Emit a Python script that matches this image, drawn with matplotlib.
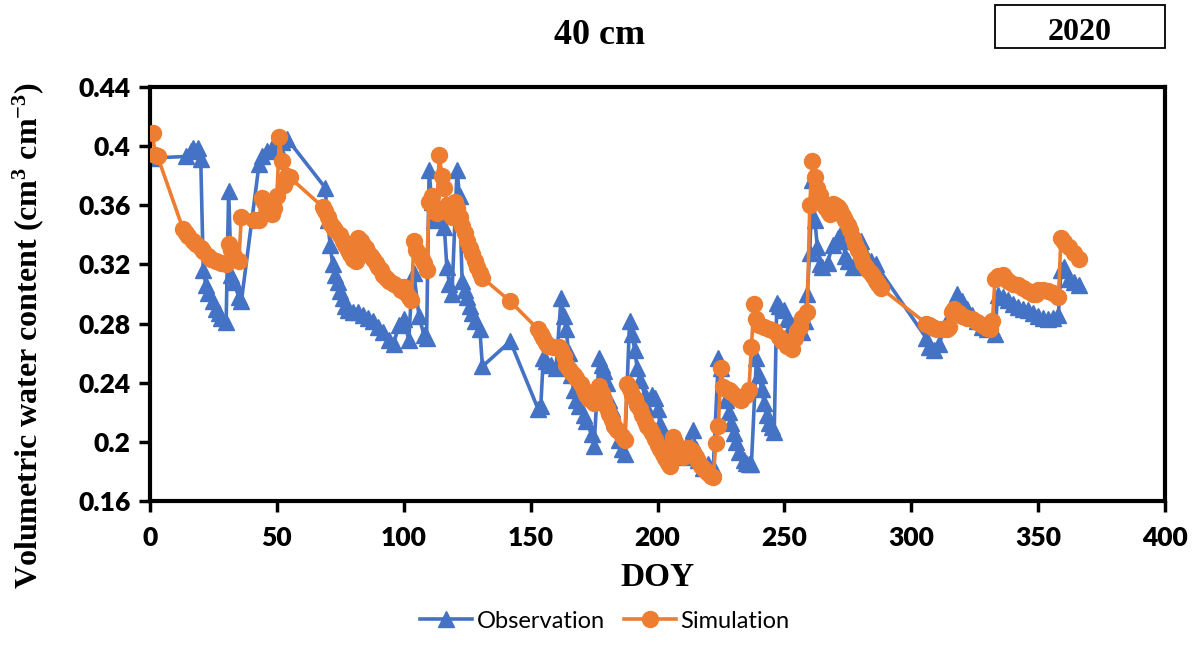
import matplotlib
matplotlib.use("Agg")
import matplotlib.pyplot as plt
from matplotlib.patches import Rectangle
from matplotlib.ticker import FuncFormatter

obs_doy = [1, 14, 16, 17, 19, 20, 21, 22, 23, 25, 26, 27, 28, 30, 31, 32, 33, 35, 36,
           43, 44, 46, 48, 50, 52, 54, 69, 70, 71, 72, 73, 74, 75, 76, 77, 78, 80, 82,
           84, 86, 88, 90, 92, 94, 96, 98, 100, 102, 103, 104, 106, 108, 109, 110, 111,
           112, 114, 116, 117, 118, 119, 121, 122, 123, 124, 125, 126, 127, 128, 130,
           131, 142, 153, 154, 155, 156, 158, 160, 162, 163, 164, 165, 166, 167, 168,
           169, 171, 172, 174, 175, 177, 178, 179, 180, 181, 182, 183, 185, 186, 187,
           189, 190, 191, 192, 193, 195, 196, 198, 199, 200, 201, 202, 204, 206, 208,
           210, 212, 214, 215, 216, 218, 220, 222, 224, 225, 226, 227, 228, 229, 230,
           231, 232, 234, 235, 236, 237, 239, 240, 241, 242, 243, 244, 245, 246, 247,
           248, 250, 251, 253, 255, 257, 258, 259, 260, 261, 262, 263, 264, 265, 267,
           269, 271, 272, 273, 274, 275, 277, 279, 280, 282, 284, 286, 306, 307, 309,
           311, 314, 316, 318, 320, 322, 324, 326, 328, 330, 333, 334, 336, 338, 340,
           342, 344, 346, 348, 350, 352, 354, 356, 358, 359, 360, 362, 364, 366]
obs_vwc = [0.392, 0.393, 0.397, 0.399, 0.399, 0.391, 0.316, 0.306, 0.301, 0.295, 0.290,
           0.287, 0.284, 0.281, 0.370, 0.313, 0.308, 0.298, 0.295,
           0.388, 0.393, 0.397, 0.399, 0.400, 0.403, 0.405, 0.372, 0.350, 0.333, 0.320,
           0.313, 0.308, 0.302, 0.297, 0.292, 0.289, 0.288, 0.288,
           0.286, 0.284, 0.282, 0.278, 0.274, 0.269, 0.266, 0.279, 0.283, 0.269, 0.300,
           0.314, 0.285, 0.272, 0.270, 0.384, 0.362,
           0.350, 0.352, 0.345, 0.318, 0.307, 0.300, 0.384, 0.366, 0.309, 0.303, 0.298,
           0.292, 0.287, 0.282, 0.276,
           0.251, 0.268, 0.222, 0.224, 0.257, 0.255, 0.252, 0.250, 0.297, 0.285, 0.276,
           0.260, 0.245, 0.235, 0.228,
           0.224, 0.218, 0.214, 0.205, 0.197, 0.257, 0.252, 0.248, 0.240, 0.228, 0.222,
           0.215, 0.201, 0.195, 0.192,
           0.282, 0.273, 0.262, 0.250, 0.242, 0.232, 0.222, 0.232, 0.230, 0.222, 0.212,
           0.205, 0.198, 0.195, 0.192,
           0.190, 0.200, 0.208, 0.195, 0.188, 0.182, 0.185, 0.183, 0.257, 0.250, 0.237,
           0.228, 0.220, 0.213, 0.206,
           0.200, 0.193, 0.188, 0.186, 0.185, 0.185, 0.257, 0.245, 0.236, 0.226, 0.218,
           0.213, 0.210, 0.207, 0.294,
           0.292, 0.289, 0.283, 0.279, 0.276, 0.274, 0.282, 0.300, 0.328, 0.377, 0.350,
           0.332, 0.320, 0.318, 0.321,
           0.333, 0.338, 0.340, 0.336, 0.326, 0.322, 0.318, 0.334, 0.336, 0.326, 0.322,
           0.320, 0.270, 0.264, 0.262,
           0.266, 0.282, 0.292, 0.300, 0.295, 0.290, 0.286, 0.282, 0.278, 0.276, 0.273,
           0.299, 0.298, 0.296, 0.293,
           0.291, 0.290, 0.289, 0.287, 0.285, 0.284, 0.283, 0.284, 0.286, 0.316, 0.318,
           0.310, 0.308, 0.306]

# Simulated soil water content at 40 cm
sim_doy = [1, 2, 3, 13, 14, 15, 17, 18, 20, 21, 23, 24, 26, 28, 30, 31, 32, 33, 35, 36,
           41, 43, 44, 45, 46, 48, 49, 50, 51, 52, 53, 54, 55, 68, 69, 70, 71, 72, 73,
           75, 76, 77, 78, 79, 80, 81, 82, 83, 84, 85, 86, 87, 88, 89, 90, 91, 92, 93,
           94, 96, 98, 99, 100, 101, 102, 103, 104, 105, 106, 107, 108, 109, 110, 111,
           112, 113, 114, 115, 116, 117, 118, 119, 120, 121, 122, 123, 124, 125, 126,
           127, 128, 129, 130, 131, 142, 153, 154, 155, 156, 157, 159, 161, 162, 163,
           164, 165, 166, 167, 168, 170, 171, 172, 173, 175, 177, 178, 179, 180, 181,
           182, 183, 184, 186, 187, 188, 189, 190, 191, 192, 193, 194, 195, 196, 197,
           198, 199, 200, 201, 202, 203, 204, 205, 206, 207, 208, 209, 210, 212, 213,
           214, 215, 216, 217, 218, 219, 220, 221, 222, 223, 224, 225, 226, 227, 228,
           229, 231, 232, 233, 235, 236, 237, 238, 239, 240, 242, 244, 246, 248, 249,
           251, 253, 254, 255, 256, 257, 259, 260, 261, 262, 263, 264, 265, 266, 267,
           268, 269, 270, 271, 272, 273, 274, 275, 276, 277, 278, 279, 280, 281, 282,
           283, 284, 285, 286, 287, 288, 306, 307, 308, 309, 310, 312, 314, 315, 316,
           317, 318, 319, 320, 322, 324, 326, 328, 330, 331, 332, 333, 334, 336, 337,
           338, 340, 342, 344, 346, 348, 349, 350, 352, 354, 356, 358, 359, 360, 362,
           364, 366]
sim_vwc = [0.409, 0.394, 0.393, 0.344, 0.341, 0.339, 0.336, 0.334, 0.331, 0.329, 0.326,
           0.324, 0.322, 0.321, 0.320, 0.334, 0.330, 0.326, 0.322, 0.352,
           0.350, 0.350, 0.365, 0.362, 0.357, 0.354, 0.358, 0.366, 0.406, 0.390, 0.374,
           0.380, 0.379, 0.359, 0.356, 0.352, 0.348, 0.345, 0.343,
           0.340, 0.336, 0.333, 0.330, 0.327, 0.324, 0.322, 0.338, 0.336, 0.333, 0.331,
           0.328, 0.326, 0.324, 0.321, 0.318, 0.316, 0.313, 0.311,
           0.309, 0.307, 0.305, 0.303, 0.305, 0.301, 0.298, 0.296, 0.336, 0.330, 0.327,
           0.324, 0.321, 0.316, 0.362, 0.366,
           0.358, 0.355, 0.394, 0.380, 0.372, 0.360, 0.355, 0.352, 0.362, 0.358, 0.352,
           0.346, 0.341, 0.336, 0.331,
           0.327, 0.322, 0.318, 0.314, 0.311, 0.295, 0.276, 0.273, 0.270, 0.267, 0.265,
           0.264, 0.264, 0.262, 0.258,
           0.252, 0.249, 0.247, 0.245, 0.243, 0.239, 0.235, 0.232, 0.229, 0.226, 0.238,
           0.233, 0.228, 0.223, 0.219,
           0.215, 0.211, 0.208, 0.204, 0.201, 0.239, 0.236, 0.232, 0.229, 0.225, 0.222,
           0.218, 0.214, 0.211, 0.209,
           0.206, 0.202, 0.198, 0.195, 0.192, 0.189, 0.186, 0.184, 0.203, 0.200, 0.196,
           0.193, 0.190, 0.196, 0.195,
           0.193, 0.190, 0.187, 0.184, 0.182, 0.180, 0.179, 0.177, 0.176, 0.199, 0.211,
           0.250, 0.237, 0.236, 0.235,
           0.234, 0.231, 0.229, 0.228, 0.232, 0.235, 0.264, 0.293, 0.283, 0.279, 0.278,
           0.276, 0.275, 0.271, 0.268,
           0.265, 0.263, 0.270, 0.275, 0.278, 0.284, 0.288, 0.360, 0.390, 0.379, 0.372,
           0.367, 0.362, 0.359, 0.356,
           0.354, 0.361, 0.360, 0.359, 0.357, 0.353, 0.350, 0.347, 0.343, 0.338, 0.334,
           0.330, 0.325, 0.321, 0.318,
           0.316, 0.314, 0.312, 0.309, 0.307, 0.304, 0.280, 0.279, 0.278, 0.277, 0.276,
           0.276, 0.276, 0.278, 0.288,
           0.290, 0.288, 0.287, 0.285, 0.284, 0.283, 0.281, 0.279, 0.277, 0.276, 0.282,
           0.310, 0.312, 0.313, 0.311,
           0.309, 0.307, 0.306, 0.304, 0.302, 0.300, 0.300, 0.303, 0.303, 0.302, 0.301,
           0.298, 0.338, 0.335, 0.332,
           0.328, 0.324]

x_ticks = [0, 50, 100, 150, 200, 250, 300, 350, 400]
y_ticks = [0.16, 0.20, 0.24, 0.28, 0.32, 0.36, 0.40, 0.44]

plt.rcParams["mathtext.fontset"] = "custom"
plt.rcParams["mathtext.rm"] = "Liberation Serif:bold"
plt.rcParams["mathtext.it"] = "Liberation Serif:bold"
plt.rcParams["mathtext.bf"] = "Liberation Serif:bold"

fig = plt.figure(figsize=(11.99, 6.46), dpi=100)
ax = fig.add_axes([150 / 1199, 1 - 501 / 646, 1015 / 1199, 414 / 646])

ax.plot(obs_doy, obs_vwc, color="#4472C4", marker="^", markersize=11,
        linewidth=2.6, label="Observation", zorder=2)
ax.plot(sim_doy, sim_vwc, color="#ED7D31", marker="o", markersize=11.5,
        linewidth=2.6, label="Simulation", zorder=3)

ax.set_xlim(0, 400)
ax.set_ylim(0.16, 0.44)
ax.set_xticks(x_ticks)
ax.set_yticks(y_ticks)
ax.yaxis.set_major_formatter(FuncFormatter(lambda v, p: f"{v:g}"))

for s in ax.spines.values():
    s.set_linewidth(3)
ax.tick_params(direction="out", length=8, width=2.5, labelsize=19)
ax.tick_params(axis="x", pad=10)
ax.tick_params(axis="y", pad=6)
for lab in ax.get_xticklabels() + ax.get_yticklabels():
    lab.set_fontfamily("Lato")
    lab.set_fontweight("heavy")

ax.set_xlabel("DOY", fontsize=24, fontweight="bold", family="Liberation Serif")
ax.xaxis.set_label_coords(0.5, -(578 - 501) / 414)
ax.set_ylabel("Volumetric water content (cm$^{3}$ cm$^{-3}$)", fontsize=23,
              fontweight="bold", family="Liberation Serif")
ax.yaxis.set_label_coords(-(150 - 28) / 1015, 0.40)
ax.yaxis.label.set_va("center")
ax.xaxis.label.set_va("center")

fig.text(600 / 1199, 1 - 35 / 646, "40 cm", ha="center", va="center",
         fontsize=26, fontweight="bold", family="Liberation Serif")
fig.patches.append(Rectangle((995 / 1199, 1 - 48 / 646), 170 / 1199, 43 / 646,
                             transform=fig.transFigure, fill=False,
                             edgecolor="black", linewidth=1.3))
fig.text(1080 / 1199, 1 - 32 / 646, "2020", ha="center", va="center",
         fontsize=23, fontweight="bold", family="Liberation Serif")

fig.legend(loc="center", bbox_to_anchor=(605 / 1199, 1 - 621 / 646), ncol=2,
           frameon=False, prop={"family": "Lato", "size": 17},
           handlelength=2.2, columnspacing=0.8, handletextpad=0.2)

fig.savefig("out.png", dpi=100)
